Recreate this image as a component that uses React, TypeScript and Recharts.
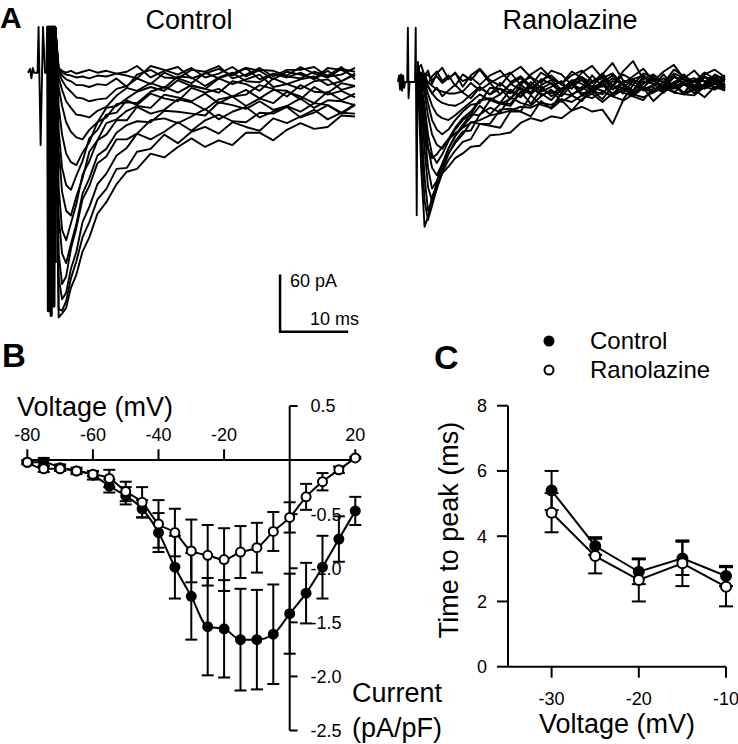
import React from "react";
import { LineChart, Line, XAxis, YAxis, ReferenceLine, ErrorBar, Legend } from "recharts";

const FONT = "'Liberation Sans', Arial, Helvetica, sans-serif";

// ---- Panel A: current traces (ms, pA) ----
const ctrlTime = [4.0, 4.5, 5.0, 5.6, 6.3, 7.1, 8.0, 9.0, 10.2, 11.5, 13.0, 14.5, 16, 18, 20, 22, 24, 26, 28, 30, 32, 34, 36, 38, 40, 42, 44, 46, 48];
const ctrlTraces = [
  [48, -257, -253, -247, -226, -212, -188, -173, -148, -136, -117, -104, -101, -85, -89, -78, -69, -78, -71, -76, -63, -63, -71, -60, -53, -59, -57, -45, -46],
  [48, -248, -250, -240, -216, -198, -173, -157, -133, -122, -101, -100, -83, -80, -65, -74, -62, -57, -64, -52, -57, -61, -48, -53, -46, -39, -49, -42, -43],
  [48, -215, -238, -231, -206, -188, -157, -141, -117, -106, -87, -79, -64, -70, -62, -52, -61, -50, -44, -51, -52, -42, -43, -36, -47, -42, -34, -42, -33],
  [48, -190, -222, -214, -185, -163, -133, -119, -95, -88, -70, -70, -64, -50, -48, -53, -46, -38, -49, -41, -36, -47, -41, -35, -41, -32, -34, -43, -34],
  [48, -150, -190, -200, -180, -159, -127, -111, -87, -80, -63, -55, -51, -52, -40, -41, -43, -45, -31, -34, -38, -30, -39, -35, -27, -37, -29, -30, -34],
  [48, -120, -165, -176, -158, -138, -107, -93, -71, -65, -50, -50, -36, -43, -39, -28, -31, -39, -28, -25, -35, -27, -32, -20, -25, -32, -20, -29, -22],
  [48, -80, -125, -145, -150, -130, -111, -83, -71, -53, -49, -40, -35, -37, -23, -26, -30, -22, -32, -25, -18, -27, -18, -19, -28, -15, -23, -19, -26],
  [48, -60, -100, -118, -123, -108, -93, -69, -60, -44, -42, -29, -34, -22, -27, -30, -16, -21, -17, -25, -23, -13, -17, -25, -13, -20, -21, -11, -14],
  [48, -35, -65, -85, -94, -97, -84, -73, -52, -47, -33, -31, -32, -20, -15, -21, -13, -17, -21, -9, -12, -19, -6, -12, -17, -9, -7, -18, -14],
  [48, -15, -35, -52, -62, -68, -70, -60, -52, -37, -35, -27, -20, -15, -19, -8, -14, -17, -6, -12, -7, -2, -15, -12, -7, -4, -13, -9, -1],
  [48, -5, -18, -30, -37, -44, -45, -47, -40, -36, -24, -16, -19, -11, -16, -4, -5, -14, -5, 0, -9, -10, -1, -5, 0, -7, 2, -9, -2],
  [48, 0, -8, -15, -20, -26, -27, -30, -28, -27, -17, -14, -6, -12, 0, -6, -11, 0, -6, -1, 5, -7, -1, -4, -6, 1, -3, 6, -7],
  [48, 2, -3, -7, -9, -13, -13, -15, -12, -13, -6, -15, -2, 3, -5, -6, 3, 1, 7, -6, -2, 5, -4, 3, 3, 6, -4, -2, 5],
  [48, 4, 0, -2, -3, -5, -4, -6, -3, -4, -1, 1, 7, -5, 2, 6, -6, -1, 4, -3, 5, 2, -7, 1, -2, -6, 5, 3, -4],
  [48, 5, 2, 0, 2, -1, 1, 3, 0, 2, -1, -3, -6, 7, 3, -2, 5, -5, -1, 6, -4, 3, 2, -3, 6, -1, -5, 4, 1],
];
// pre-pulse blip and first capacitive spike
const ctrlArtifactTime = [0, 0.3, 0.5, 0.7, 0.9, 1.4, 1.55, 1.85, 2.2, 2.5, 2.8];
const ctrlArtifact = [0, 4, -6, 5, 0, 0, 48, -76, 48, 0, 0];
// overlapping capacitive transients at the step
const ctrlStepTime = [2.8, 2.9, 3.0, 3.1, 3.2, 3.3, 3.4, 3.5, 3.6, 3.7, 3.8, 3.9, 4.0];
const ctrlStep = [0, 48, -250, 48, -240, 48, -255, 48, -235, 48, -245, 48, -200];

const ranTime = [2.9, 3.4, 3.9, 4.4, 5.0, 5.7, 6.5, 7.4, 8.4, 9.5, 10.7, 12.0, 13.5, 15, 16.5, 18, 19.5, 21, 22.5, 24, 25.5, 27, 28.5, 30, 31.5, 33, 34.5, 36, 37.5, 39, 40.5, 42, 43.5, 45, 46.5, 48];
const ranTraces = [
  [10, -90, -152, -142, -120, -110, -96, -89, -80, -75, -68, -67, -56, -55, -53, -43, -38, -41, -36, -38, -30, -26, -31, -29, -44, -20, -13, -16, -11, -6, -11, -13, -5, -5, -8, -2],
  [15, -60, -125, -145, -130, -112, -95, -82, -72, -63, -60, -44, -46, -48, -31, -31, -36, -20, -28, -19, -30, -18, -12, -21, -12, -6, -15, -19, -6, -11, 0, -13, -14, -5, 0, -9],
  [18, -40, -100, -135, -125, -105, -88, -75, -64, -55, -42, -44, -44, -29, -28, -31, -14, -24, -27, -12, -14, -20, -6, -9, -15, -19, -3, -7, -11, 1, -11, -2, -12, -3, 1, -5],
  [20, -20, -70, -110, -125, -112, -92, -76, -62, -52, -51, -34, -27, -32, -16, -22, -25, -15, -8, -21, -14, -5, -13, 0, -13, -6, -10, 1, -2, -11, -2, -12, 2, 6, -6, -2],
  [22, -10, -50, -90, -112, -104, -86, -70, -57, -47, -37, -25, -34, -23, -23, -10, -23, -8, -12, -7, 0, -12, -9, -13, 1, -1, -13, -2, 5, -8, -3, 4, -5, -7, 3, 0],
  [20, -5, -35, -68, -90, -98, -86, -70, -56, -45, -34, -35, -19, -23, -25, -11, -5, -14, -9, -15, -3, 2, -10, -3, -13, -1, 2, -8, -3, 4, -5, -11, 2, 1, -7, 4],
  [16, -10, -45, -70, -80, -76, -68, -60, -54, -48, -43, -40, -35, -33, -30, -26, -27, -22, -24, -18, -21, -14, -17, -10, -15, -8, -12, -5, -9, -3, -7, -1, -5, -4, 2, -3],
  [18, 0, -25, -55, -76, -85, -76, -62, -50, -40, -34, -19, -18, -23, -18, -3, -11, -4, -15, -9, 2, -2, -10, 2, -3, -12, 1, -6, 5, -8, 0, 4, -9, -2, 5, -4],
  [16, 5, -12, -35, -55, -66, -70, -60, -48, -38, -31, -19, -17, -22, -8, -15, 0, -10, -5, 1, -13, -8, 0, 4, -8, 0, 3, -9, -4, 8, -6, 1, 4, -7, -2, 6],
  [14, 6, -5, -22, -40, -50, -55, -50, -40, -31, -24, -22, -6, -7, -18, -6, -13, -3, 2, -8, -2, -8, 7, -5, 4, -3, -9, 6, 1, -6, -1, 8, -4, 5, 3, -7],
  [12, 8, 0, -12, -25, -34, -38, -40, -35, -28, -21, -13, -19, -13, -2, -8, -11, 3, -2, -12, 1, 4, -9, -4, -5, 8, 2, -1, 5, -8, 7, -3, 1, -6, 8, 2],
  [10, 8, 3, -5, -12, -18, -22, -24, -25, -21, -13, -5, -13, -7, -12, 0, 5, -7, -1, -10, 1, 5, -6, -1, 7, -3, -9, 4, 2, -6, 5, 3, -5, 6, -2, -7],
  [8, 7, 4, 0, -4, -8, -10, -12, -12, -10, -1, -9, -1, -13, -2, 4, -7, 2, 7, -3, -7, 5, -1, 9, -4, -6, 3, 7, -2, -4, 6, -1, -8, 5, 2, -6],
  [6, 10, 5, 8, 2, 6, -1, 4, 9, 1, 5, -3, 7, 12, 0, 6, -4, 10, 3, -2, 11, 4, -5, 8, 20, 2, -3, 9, 5, -1, 13, 6, 0, 10, 3, 7],
  [12, 3, 9, -2, 6, 11, 1, 7, -4, 8, 2, 13, -1, 5, 10, -3, 8, 15, 4, -2, 7, 12, 1, 6, -4, 11, 22, 3, 8, -1, 9, 4, 12, 0, 7, 2],
  [14, 18, 6, 12, -2, 9, 15, 3, 10, -5, 7, 14, 2, -4, 9, 16, 5, -1, 12, 8, -3, 10, 17, 4, 9, -2, 6, 14, 1, 11, 18, 3, -4, 8, 13, 5],
  [4, -2, -8, -4, -12, -6, -15, -9, -3, -11, -17, -6, -13, -1, -10, -16, -5, -12, -19, -7, -2, -14, -9, -18, -4, -11, -15, -6, -20, -10, -3, -13, -8, -16, -5, -9],
];
const ranArtifactTime = [0, 0.15, 0.3, 0.45, 0.6, 0.75, 0.9, 1.05, 1.35, 1.45, 1.55, 1.7, 2.5, 2.6, 2.75, 2.85];
const ranArtifact = [0, 7, -8, 8, -9, 7, -6, 0, 0, 57, -17, 0, 0, 57, -140, 10];

// scale bar: 60 pA / 10 ms
const SCALE_PA = 60;
const SCALE_MS = 10;

// ---- Panel B: I-V relation ----
const ivVoltage = [-80, -75, -70, -65, -60, -55, -50, -45, -40, -35, -30, -25, -20, -15, -10, -5, 0, 5, 10, 15, 20];
const ivControl = [-0.02, -0.02, -0.07, -0.10, -0.14, -0.24, -0.33, -0.45, -0.67, -0.99, -1.26, -1.54, -1.56, -1.66, -1.66, -1.61, -1.42, -1.23, -0.99, -0.73, -0.47];
const ivControlSem = [0.02, 0.04, 0.03, 0.03, 0.04, 0.06, 0.08, 0.08, 0.18, 0.29, 0.40, 0.45, 0.45, 0.47, 0.46, 0.46, 0.37, 0.28, 0.29, 0.21, 0.13];
const ivRanolazine = [-0.02, -0.08, -0.08, -0.10, -0.13, -0.17, -0.29, -0.39, -0.59, -0.67, -0.84, -0.88, -0.92, -0.85, -0.81, -0.66, -0.53, -0.34, -0.20, -0.09, 0.02];
const ivRanolazineSem = [0.01, 0.03, 0.02, 0.01, 0.02, 0.08, 0.09, 0.14, 0.22, 0.22, 0.29, 0.28, 0.29, 0.24, 0.23, 0.18, 0.14, 0.12, 0.08, 0.03, 0.01];
const ivXTicks = [-80, -60, -40, -20, 20];
const ivYTicks = [0.5, -0.5, -1, -1.5, -2, -2.5];

// ---- Panel C: time to peak ----
const tpVoltage = [-30, -25, -20, -15, -10];
const tpControl = [5.40, 3.70, 2.91, 3.32, 2.78];
const tpControlSem = [0.60, 0.27, 0.38, 0.51, 0.31];
const tpRanolazine = [4.72, 3.39, 2.66, 3.17, 2.45];
const tpRanolazineSem = [0.60, 0.53, 0.66, 0.70, 0.60];

const toSeries = (t: number[], v: number[]) => t.map((x, i) => ({ t: x, v: v[i] }));

const ivData = ivVoltage.map((v, i) => ({
  v,
  ctrl: ivControl[i],
  ctrlErr: ivControlSem[i],
  ran: ivRanolazine[i],
  ranErr: ivRanolazineSem[i],
}));

const tpData = tpVoltage.map((v, i) => ({
  v,
  ctrl: tpControl[i],
  ctrlErr: tpControlSem[i],
  ran: tpRanolazine[i],
  ranErr: tpRanolazineSem[i],
}));

const tpSeries = [
  { key: "ctrl", err: "ctrlErr", name: "Control", fill: "#000" },
  { key: "ran", err: "ranErr", name: "Ranolazine", fill: "#fff" },
];

const traceLine = {
  stroke: "#000",
  strokeWidth: 1.9,
  strokeLinejoin: "round" as const,
  dot: false,
  isAnimationActive: false,
};

interface TraceProps {
  left: number;
  time: number[];
  traces: number[][];
  artifactTime: number[];
  artifact: number[];
  yDomain: [number, number];
  children?: React.ReactNode;
}

const TracePanel: React.FC<TraceProps> = ({ left, time, traces, artifactTime, artifact, yDomain, children }) => (
  <div style={{ position: "absolute", left, top: 22 }}>
    <LineChart width={337} height={318} margin={{ top: 5, right: 5, bottom: 5, left: 5 }}>
      <XAxis type="number" dataKey="t" domain={[0, 48]} hide />
      <YAxis type="number" domain={yDomain} hide />
      <Line data={toSeries(artifactTime, artifact)} dataKey="v" {...traceLine} />
      {traces.map((tr, i) => (
        <Line key={i} data={toSeries(time, tr)} dataKey="v" {...traceLine} />
      ))}
      {children}
    </LineChart>
  </div>
);

const LegendContent = () => (
  <div style={{ fontFamily: FONT }}>
    {tpSeries.map((s) => (
      <div key={s.key} style={{ display: "flex", alignItems: "center", height: 29 }}>
        <svg width={14} height={14}>
          <circle cx={7} cy={7} r={4.5} fill={s.fill} stroke="#000" strokeWidth={2} />
        </svg>
        <span style={{ marginLeft: 34, fontSize: 24, color: "#000" }}>{s.name}</span>
      </div>
    ))}
  </div>
);

const App: React.FC = () => {
  const scaleT0 = 37;
  const scaleV0 = -272;
  return (
    <div style={{ position: "absolute", left: 0, top: 0, width: 738, height: 744, background: "#fff", fontFamily: FONT, color: "#000" }}>
      {/* A: control traces with scale bar */}
      <TracePanel left={23} time={ctrlTime} traces={ctrlTraces} artifactTime={ctrlArtifactTime} artifact={ctrlArtifact} yDomain={[-275.5, 48]}>
        <Line data={toSeries(ctrlStepTime, ctrlStep)} dataKey="v" {...traceLine} strokeWidth={3.2} />
        <Line
          data={[
            { t: scaleT0, v: scaleV0 + SCALE_PA },
            { t: scaleT0, v: scaleV0 },
            { t: scaleT0 + SCALE_MS, v: scaleV0 },
          ]}
          dataKey="v"
          stroke="#000"
          strokeWidth={2.5}
          dot={false}
          isAnimationActive={false}
        />
      </TracePanel>
      {/* A: ranolazine traces */}
      <TracePanel left={393} time={ranTime} traces={ranTraces} artifactTime={ranArtifactTime} artifact={ranArtifact} yDomain={[-265.8, 57.8]} />

      {/* B: I-V */}
      <div style={{ position: "absolute", left: 0, top: 380 }}>
        <LineChart width={400} height={364} data={ivData} margin={{ top: 26, right: 31.6, bottom: 13.5, left: 14.2 }}>
          <XAxis type="number" dataKey="v" domain={[-84, 24]} hide />
          <YAxis type="number" domain={[-2.5, 0.5]} hide />
          <ReferenceLine segment={[{ x: -80, y: 0 }, { x: 20, y: 0 }]} stroke="#000" strokeWidth={2} />
          <ReferenceLine segment={[{ x: 0, y: 0.5 }, { x: 0, y: -2.5 }]} stroke="#000" strokeWidth={2} />
          {ivXTicks.map((x) => (
            <ReferenceLine
              key={`x${x}`}
              segment={[{ x, y: 0 }, { x, y: 0.1 }]}
              stroke="#000"
              strokeWidth={2}
              label={{ value: String(x), position: "top", offset: 8, fontSize: 18, fill: "#000" }}
            />
          ))}
          {ivYTicks.map((y) => (
            <ReferenceLine
              key={`y${y}`}
              segment={[{ x: 0, y }, { x: 2.4, y }]}
              stroke="#000"
              strokeWidth={2}
              label={{ value: y.toFixed(1), position: "right", offset: 13, fontSize: 18, fill: "#000" }}
            />
          ))}
          <Line
            type="monotone"
            dataKey="ctrl"
            stroke="#000"
            strokeWidth={2}
            dot={{ r: 4.5, fill: "#000", stroke: "#000", strokeWidth: 2 }}
            isAnimationActive={false}
          >
            <ErrorBar dataKey="ctrlErr" direction="y" width={6} stroke="#000" strokeWidth={2} />
          </Line>
          <Line
            type="monotone"
            dataKey="ran"
            stroke="#000"
            strokeWidth={2}
            dot={{ r: 4.5, fill: "#fff", stroke: "#000", strokeWidth: 2 }}
            isAnimationActive={false}
          >
            <ErrorBar dataKey="ranErr" direction="y" width={6} stroke="#000" strokeWidth={2} />
          </Line>
        </LineChart>
      </div>

      {/* C: time to peak */}
      <div style={{ position: "absolute", left: 400, top: 320 }}>
        <LineChart width={338} height={424} data={tpData} margin={{ top: 85.7, right: 12, bottom: 37.3, left: 48 }}>
          <XAxis
            type="number"
            dataKey="v"
            domain={[-35, -10]}
            ticks={[-30, -20, -10]}
            height={40}
            tickSize={11}
            tickMargin={15}
            axisLine={{ stroke: "#000", strokeWidth: 2 }}
            tickLine={{ stroke: "#000", strokeWidth: 2 }}
            tick={{ fill: "#000", fontSize: 18 }}
          />
          <YAxis
            type="number"
            domain={[0, 8]}
            ticks={[0, 2, 4, 6, 8]}
            width={60}
            tickSize={11}
            tickMargin={10}
            axisLine={{ stroke: "#000", strokeWidth: 2 }}
            tickLine={{ stroke: "#000", strokeWidth: 2 }}
            tick={{ fill: "#000", fontSize: 18 }}
          />
          <Legend
            layout="horizontal"
            verticalAlign="middle"
            align="center"
            content={LegendContent}
            wrapperStyle={{ position: "absolute", top: 6.5, left: 142, width: 250 }}
          />
          {tpSeries.map((s) => (
            <Line
              key={s.key}
              type="linear"
              dataKey={s.key}
              name={s.name}
              stroke="#000"
              strokeWidth={2}
              dot={{ r: 5, fill: s.fill, stroke: "#000", strokeWidth: 2 }}
              isAnimationActive={false}
            >
              <ErrorBar dataKey={s.err} direction="y" width={7} stroke="#000" strokeWidth={2} />
            </Line>
          ))}
        </LineChart>
      </div>

      {/* titles, labels, panel letters */}
      <svg width={738} height={744} style={{ position: "absolute", left: 0, top: 0, pointerEvents: "none" }} fontFamily={FONT}>
        <text x={0} y={28} fontSize={30} fontWeight="bold">A</text>
        <text x={2} y={367} fontSize={33} fontWeight="bold">B</text>
        <text x={434} y={369} fontSize={34} fontWeight="bold">C</text>
        <text x={189} y={29} fontSize={27} textAnchor="middle">Control</text>
        <text x={570} y={29} fontSize={27} textAnchor="middle">Ranolazine</text>
        <text x={290} y={287} fontSize={18}>60 pA</text>
        <text x={310} y={325} fontSize={18}>10 ms</text>
        <text x={17} y={416} fontSize={27}>Voltage (mV)</text>
        <text x={352} y={702} fontSize={27}>Current</text>
        <text x={352} y={737} fontSize={27}>(pA/pF)</text>
        <text x={617} y={733} fontSize={27} textAnchor="middle">Voltage (mV)</text>
        <text transform="translate(458,530) rotate(-90)" fontSize={27} textAnchor="middle">Time to peak (ms)</text>
      </svg>
    </div>
  );
};

export default App;
